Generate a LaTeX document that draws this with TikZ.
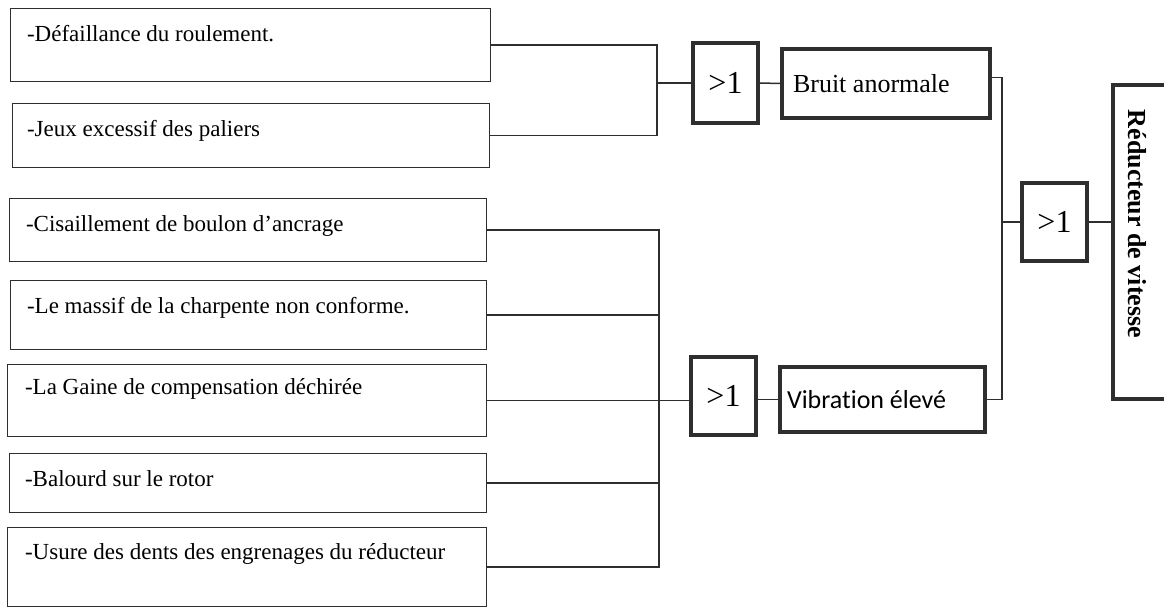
\documentclass[tikz,border=0pt]{standalone}
\usepackage{fontspec}
\setmainfont{Liberation Serif}
\newfontfamily\serifface{Liberation Serif}
\newfontfamily\calib[Ligatures=NoCommon]{Carlito}
\definecolor{ink}{HTML}{2E2E2E}
\begin{document}
\begin{tikzpicture}[x=1pt,y=-1pt,
  cause/.style={draw=ink, line width=1.3pt, inner sep=0pt},
  causetext/.style={anchor=base west, inner sep=0pt, font=\serifface\fontsize{23}{27}\selectfont},
  gate/.style={draw=ink, line width=4pt, inner sep=0pt, minimum width=65pt,
    font=\serifface\fontsize{32}{36}\selectfont},
  effect/.style={draw=ink, line width=4pt, align=flush left, inner ysep=0pt},
  wire/.style={draw=ink, line width=1.5pt}]
\useasboundingbox (0,0) rectangle (1164,609);

% causes
\node[cause, minimum width=480pt, minimum height=73pt] (c1) at (250.5,45) {};
\node[cause, minimum width=477pt, minimum height=64pt] (c2) at (251,135.5) {};
\node[cause, minimum width=477pt, minimum height=63pt] (c3) at (248,230) {};
\node[cause, minimum width=476pt, minimum height=69pt] (c4) at (248.5,315) {};
\node[cause, minimum width=479pt, minimum height=72pt] (c5) at (247,400.5) {};
\node[cause, minimum width=477pt, minimum height=59pt] (c6) at (248,483) {};
\node[cause, minimum width=479pt, minimum height=79pt] (c7) at (247,567) {};

\node[causetext] (t1) at ([shift={(17,34)}]c1.north west) {-Défaillance du roulement.};
\node[causetext] (t2) at ([shift={(15,34)}]c2.north west) {-Jeux excessif des paliers};
\node[causetext] (t3) at ([shift={(17,34)}]c3.north west) {-Cisaillement de boulon d’ancrage};
\node[causetext] (t4) at ([shift={(17,34)}]c4.north west) {-Le massif de la charpente non conforme.};
\node[causetext] (t5) at ([shift={(18,31)}]c5.north west) {-La Gaine de compensation déchirée};
\node[causetext] (t6) at ([shift={(16,34)}]c6.north west) {-Balourd sur le rotor};
\node[causetext] (t7) at ([shift={(18,33)}]c7.north west) {-Usure des dents des engrenages du réducteur};

% OR gates
\node[gate, minimum height=80pt] (g1) at (725.5,83) {>1};
\node[gate, minimum height=78pt] (g2) at (723.5,396) {>1};
\node[gate, minimum height=78pt] (g3) at (1054.5,222) {>1};

% intermediate events
\node[effect, minimum height=69pt, inner xsep=11pt, text width=186pt,
  font=\serifface\fontsize{26}{30}\selectfont] (bruit) at (886,83.5) {Bruit anormale};
\node[effect, minimum height=65pt, inner xsep=7pt, text width=191pt,
  font=\calib\fontsize{26}{30}\selectfont] (vib) at (882.5,399.5) {Vibration élevé};

% top event
\node[draw=ink, line width=4pt, inner sep=0pt, minimum width=77pt, minimum height=314pt]
  (red) at (1151.5,242) {};
\node[rotate=-90, inner sep=0pt, font=\serifface\bfseries\fontsize{26}{30}\selectfont]
  (redt) at (1137,224) {Réducteur de vitesse};

% bus coordinates
\coordinate (busA) at (657,0);
\coordinate (busB) at (659,0);
\coordinate (busC) at (1002,0);

% upper group
\draw[wire] (c1.east) -- (c1.east -| busA) -- (c2.east -| busA) -- (c2.east);
\draw[wire] (g1.west -| busA) -- (g1.west);
\draw[wire] (g1.east) -- (bruit.west);

% lower group
\draw[wire] (c3.east) -- (c3.east -| busB) -- (c7.east -| busB) -- (c7.east);
\draw[wire] (c4.east) -- (c4.east -| busB);
\draw[wire] (c6.east) -- (c6.east -| busB);
\draw[wire] (c5.east) -- (c5.east -| g2.west);
\draw[wire] (g2.east |- vib.west) -- (vib.west);

% top gate
\draw[wire] ([yshift=6pt]bruit.east) -- ([yshift=6pt]bruit.east -| busC)
  -- (vib.east -| busC) -- (vib.east);
\draw[wire] (g3.west -| busC) -- (g3.west);
\draw[wire] (g3.east) -- (g3.east -| red.west);
\end{tikzpicture}
\end{document}
